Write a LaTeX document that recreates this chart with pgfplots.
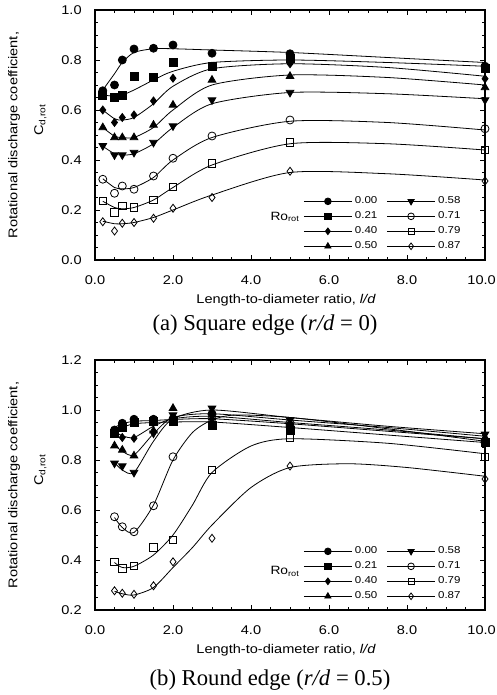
\documentclass[border=0pt]{standalone}
\usepackage{fontspec}
\setmainfont{Liberation Serif}
\setsansfont[FakeStretch=1.15]{Liberation Sans}
\usepackage{pgfplots}
\pgfplotsset{compat=1.18}

\newcommand{\axfont}{\sffamily\fontsize{9.5}{11}\selectfont}
\newcommand{\legfont}{\sffamily\fontsize{7.5}{8.5}\selectfont}
\newcommand{\capfont}{\rmfamily\fontsize{17}{20}\selectfont}

\pgfplotsset{
  cdrot/.style={
    scale only axis, width=292.5pt, height=187.5pt,
    xmin=0, xmax=10, xtick={0,2,4,6,8,10},
    xticklabels={0.0,2.0,4.0,6.0,8.0,\hspace{-5pt}10.0},
    minor x tick num=3, minor y tick num=3,
    tick pos=both, tick align=inside,
    major tick length=4pt, minor tick length=2.5pt,
    axis line style={line width=0.8pt},
    every tick/.append style={line width=0.6pt, black},
    tick label style={font=\axfont},
    /pgf/number format/fixed, /pgf/number format/fixed zerofill,
    /pgf/number format/precision=1, /pgf/number format/assume math mode=true,
    xticklabel style={yshift=-8pt},
    yticklabel style={xshift=-6.5pt},
    xlabel={Length-to-diameter ratio, \textit{l/d}},
    xlabel style={font=\axfont, at={(axis description cs:0.49,0)}, anchor=center, yshift=-30pt},
    clip=false,
    legend columns=2,
    legend cell align=left,
    legend style={at={(rel axis cs:0.955,0.275)}, anchor=north east,
      draw=none, fill=none, font=\legfont, row sep=0.5pt,
      /tikz/every even column/.append style={column sep=5pt}},
    legend image code/.code={\draw[mark repeat=2,mark phase=2]
      plot coordinates {(0pt,0pt)(18pt,0pt)(36pt,0pt)};},
  },
  fitc/.style={black, line width=0.6pt, smooth, tension=0.45, no markers, forget plot},
  pts/.style={only marks, line width=0.6pt, forget plot},
  m0/.style={black, mark=*, mark size=3pt},
  m1/.style={black, mark=square*, mark size=3pt},
  m2/.style={black, mark=diamond*, mark size=3pt},
  m3/.style={black, mark=triangle*, mark size=3.3pt},
  m4/.style={black, mark=triangle*, mark size=3.3pt, mark options={rotate=180}},
  m5/.style={black, mark=o, mark size=3pt},
  m6/.style={black, mark=square, mark size=2.8pt},
  m7/.style={black, mark=diamond, mark size=3pt},
  % legend entries, row by row: left column 0.00-0.50, right column 0.58-0.87
  rolegend/.style={
    legend entries={0.00,0.58,0.21,0.71,0.40,0.79,0.50,0.87},
  },
}

\newcommand{\legimages}{%
  \addlegendimage{m0, line width=0.6pt, mark size=2.5pt}
  \addlegendimage{m4, line width=0.6pt, mark size=2.7pt}
  \addlegendimage{m1, line width=0.6pt, mark size=2.5pt}
  \addlegendimage{m5, line width=0.6pt, mark size=2.5pt}
  \addlegendimage{m2, line width=0.6pt, mark size=2.5pt}
  \addlegendimage{m6, line width=0.6pt, mark size=2.3pt}
  \addlegendimage{m3, line width=0.6pt, mark size=2.7pt}
  \addlegendimage{m7, line width=0.6pt, mark size=2.5pt}
}

\begin{document}
\begin{tikzpicture}
\useasboundingbox (0,0) rectangle (372pt,-521.25pt);

% ---------------- (a) square edge ----------------
\begin{axis}[cdrot, rolegend, at={(71.25pt,-195pt)}, anchor=south west,
  ymin=0, ymax=1, ytick={0,0.2,0.4,0.6,0.8,1}]
  \legimages
  % fitted curves
  \addplot[fitc] coordinates {(0.2,0.68)(0.5,0.745)(0.7,0.79)(1,0.83)(1.5,0.845)(2,0.845)(3,0.84)(5,0.83)(7.5,0.81)(10,0.79)};
  \addplot[fitc] coordinates {(0.2,0.66)(0.5,0.655)(0.7,0.66)(1,0.68)(1.5,0.72)(2,0.755)(3,0.79)(5,0.80)(7.5,0.79)(10,0.775)};
  \addplot[fitc] coordinates {(0.2,0.60)(0.5,0.565)(0.7,0.56)(1,0.57)(1.5,0.625)(2,0.695)(3,0.765)(5,0.785)(7.5,0.77)(10,0.735)};
  \addplot[fitc] coordinates {(0.2,0.53)(0.5,0.495)(0.7,0.49)(1,0.49)(1.5,0.53)(2,0.60)(3,0.70)(5,0.74)(7.5,0.73)(10,0.70)};
  \addplot[fitc] coordinates {(0.2,0.455)(0.5,0.425)(0.7,0.42)(1,0.425)(1.5,0.465)(2,0.53)(3,0.625)(5,0.67)(7.5,0.665)(10,0.645)};
  \addplot[fitc] coordinates {(0.2,0.325)(0.5,0.29)(0.7,0.285)(1,0.29)(1.5,0.33)(2,0.40)(3,0.49)(5,0.555)(7.5,0.55)(10,0.52)};
  \addplot[fitc] coordinates {(0.2,0.235)(0.5,0.21)(0.7,0.205)(1,0.21)(1.5,0.24)(2,0.29)(3,0.38)(5,0.465)(7.5,0.465)(10,0.44)};
  \addplot[fitc] coordinates {(0.2,0.155)(0.5,0.145)(0.7,0.145)(1,0.15)(1.5,0.17)(2,0.20)(3,0.26)(5,0.35)(7.5,0.345)(10,0.32)};
  % measured points
  \addplot[pts, m0] coordinates {(0.2,0.677)(0.5,0.700)(0.7,0.800)(1,0.844)(1.5,0.847)(2,0.860)(3,0.827)(5,0.825)(10,0.775)};
  \addplot[pts, m1] coordinates {(0.2,0.660)(0.5,0.650)(0.7,0.660)(1,0.736)(1.5,0.730)(2,0.790)(3,0.775)(5,0.805)(10,0.768)};
  \addplot[pts, m2] coordinates {(0.2,0.600)(0.5,0.550)(0.7,0.570)(1,0.580)(1.5,0.636)(2,0.727)(3,0.775)(5,0.785)(10,0.725)};
  \addplot[pts, m3] coordinates {(0.2,0.530)(0.5,0.490)(0.7,0.490)(1,0.490)(1.5,0.540)(2,0.620)(3,0.720)(5,0.735)(10,0.690)};
  \addplot[pts, m4] coordinates {(0.2,0.457)(0.5,0.420)(0.7,0.420)(1,0.430)(1.5,0.470)(2,0.536)(3,0.640)(5,0.670)(10,0.640)};
  \addplot[pts, m5] coordinates {(0.2,0.323)(0.5,0.267)(0.7,0.296)(1,0.283)(1.5,0.336)(2,0.407)(3,0.496)(5,0.560)(10,0.525)};
  \addplot[pts, m6] coordinates {(0.2,0.236)(0.5,0.190)(0.7,0.216)(1,0.210)(1.5,0.240)(2,0.293)(3,0.387)(5,0.470)(10,0.440)};
  \addplot[pts, m7] coordinates {(0.2,0.153)(0.5,0.116)(0.7,0.147)(1,0.150)(1.5,0.167)(2,0.207)(3,0.250)(5,0.355)(10,0.316)};
  \node[anchor=west, font=\sffamily\fontsize{9}{10}\selectfont] at (rel axis cs:0.438,0.173) {Ro\textsubscript{rot}};
  \node[rotate=90, font=\axfont] at ([xshift=-60.75pt]rel axis cs:0,0.5) {Rotational discharge coefficient,};
  \node[rotate=90, font=\axfont] at ([xshift=-41pt]rel axis cs:0,0.56) {C\textsubscript{d,rot}};
\end{axis}
\node[font=\capfont] at (198.75pt,-243.75pt) {(a) Square edge (\textit{r/d} = 0)};

% ---------------- (b) round edge ----------------
\begin{axis}[cdrot, rolegend, at={(71.25pt,-457.5pt)}, anchor=south west,
  ymin=0.2, ymax=1.2, ytick={0.2,0.4,0.6,0.8,1,1.2}]
  \legimages
  % fitted curves
  \addplot[fitc] coordinates {(0.5,0.93)(0.7,0.945)(1,0.955)(1.5,0.958)(2,0.962)(3,0.965)(5,0.945)(7.5,0.915)(10,0.885)};
  \addplot[fitc] coordinates {(0.5,0.915)(0.7,0.93)(1,0.945)(1.5,0.95)(2,0.952)(3,0.952)(5,0.93)(7.5,0.90)(10,0.87)};
  \addplot[fitc] coordinates {(0.5,0.915)(0.7,0.897)(1,0.89)(1.5,0.935)(2,0.965)(3,0.975)(5,0.95)(7.5,0.92)(10,0.885)};
  \addplot[fitc] coordinates {(0.5,0.86)(0.7,0.835)(1,0.82)(1.5,0.905)(2,0.97)(3,0.985)(5,0.96)(7.5,0.93)(10,0.895)};
  \addplot[fitc] coordinates {(0.5,0.79)(0.7,0.76)(1,0.75)(1.5,0.875)(2,0.965)(3,1.0)(5,0.97)(7.5,0.935)(10,0.905)};
  \addplot[fitc] coordinates {(0.5,0.57)(0.7,0.53)(1,0.51)(1.5,0.62)(2,0.80)(2.5,0.91)(3,0.96)(3.6,0.98)(5,0.97)(7.5,0.925)(10,0.875)};
  \addplot[fitc] coordinates {(0.5,0.39)(0.7,0.37)(1,0.375)(1.5,0.42)(2,0.50)(2.5,0.62)(3,0.75)(4,0.856)(5,0.885)(7.5,0.867)(10,0.825)};
  \addplot[fitc] coordinates {(0.5,0.275)(0.7,0.265)(1,0.26)(1.5,0.29)(2,0.37)(2.5,0.45)(3,0.54)(4,0.69)(5,0.77)(6.5,0.785)(8,0.77)(10,0.735)};
  % measured points
  \addplot[pts, m0] coordinates {(0.5,0.920)(0.7,0.947)(1,0.963)(1.5,0.963)(2,0.965)(3,0.985)(5,0.935)(10,0.875)};
  \addplot[pts, m1] coordinates {(0.5,0.905)(0.7,0.930)(1,0.950)(1.5,0.955)(2,0.955)(3,0.940)(5,0.920)(10,0.870)};
  \addplot[pts, m2] coordinates {(0.5,0.910)(0.7,0.890)(1,0.887)(1.5,0.953)(2,0.970)(3,0.965)(5,0.930)(10,0.880)};
  \addplot[pts, m3] coordinates {(0.5,0.857)(0.7,0.840)(1,0.817)(1.5,0.917)(2,1.007)(3,0.990)(5,0.950)(10,0.890)};
  \addplot[pts, m4] coordinates {(0.5,0.787)(0.7,0.776)(1,0.750)(1.5,0.907)(2,0.980)(3,1.007)(5,0.960)(10,0.903)};
  \addplot[pts, m5] coordinates {(0.5,0.573)(0.7,0.533)(1,0.513)(1.5,0.617)(2,0.813)(3,0.967)(5,0.950)(10,0.870)};
  \addplot[pts, m6] coordinates {(0.5,0.393)(0.7,0.367)(1,0.377)(1.5,0.450)(2,0.480)(3,0.760)(5,0.890)(10,0.813)};
  \addplot[pts, m7] coordinates {(0.5,0.277)(0.7,0.267)(1,0.263)(1.5,0.297)(2,0.393)(3,0.487)(5,0.776)(10,0.724)};
  \node[anchor=west, font=\sffamily\fontsize{9}{10}\selectfont] at (rel axis cs:0.438,0.155) {Ro\textsubscript{rot}};
  \node[rotate=90, font=\axfont] at ([xshift=-60.75pt]rel axis cs:0,0.5) {Rotational discharge coefficient,};
  \node[rotate=90, font=\axfont] at ([xshift=-41pt]rel axis cs:0,0.56) {C\textsubscript{d,rot}};
\end{axis}
\node[font=\capfont] at (202.5pt,-510pt) {(b) Round edge (\textit{r/d} = 0.5)};
\end{tikzpicture}
\end{document}
